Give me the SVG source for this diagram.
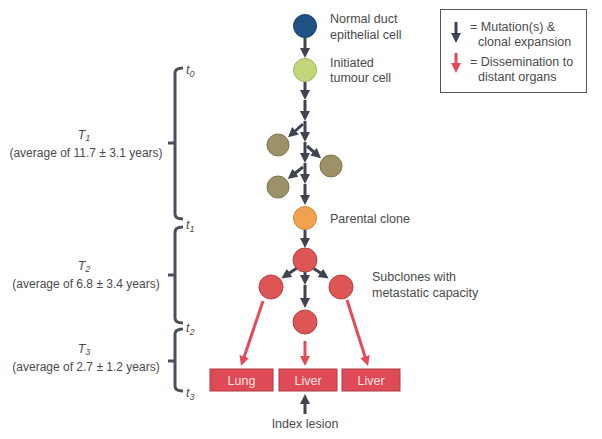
<svg xmlns="http://www.w3.org/2000/svg" width="602" height="439" viewBox="0 0 602 439">
<style>
text{font-family:"Liberation Sans",Arial,sans-serif;fill:#4a4a4a;font-size:12.5px}
.lbl{font-size:12px}
.it{font-style:italic}
.sub{font-size:9px}
.box{fill:#de4a55;stroke:#b03a45;stroke-width:1}
.boxt{fill:#fde4e4;font-size:12.5px;text-anchor:middle}
.ga{stroke:#3e4450;stroke-width:3;fill:none;marker-end:url(#gh)}
.ra{stroke:#e34a5a;stroke-width:3;fill:none;marker-end:url(#rh)}
.br{stroke:#4a4f5a;stroke-width:3;fill:none}
.brown{fill:#9d9169;stroke:#7d7350;stroke-width:1}
.red{fill:#dd5555;stroke:#b84040;stroke-width:1}
</style>
<defs>
<marker id="gh" viewBox="0 0 10 10" refX="2" refY="5" markerWidth="10" markerHeight="10" markerUnits="userSpaceOnUse" orient="auto"><path d="M0,0 L10,5 L0,10 z" fill="#3e4450"/></marker>
<marker id="rh" viewBox="0 0 10 10" refX="2" refY="5" markerWidth="10" markerHeight="10" markerUnits="userSpaceOnUse" orient="auto"><path d="M0,0 L10,5 L0,10 z" fill="#e34a5a"/></marker>
</defs>

<g id="connectors">
<line class="ga" x1="305" y1="38" x2="305" y2="50"/>
<line class="ga" x1="305" y1="82" x2="305" y2="92"/>
<line class="ga" x1="305" y1="100" x2="305" y2="113"/>
<line class="ga" x1="305" y1="121" x2="305" y2="134"/>
<line class="ga" x1="305" y1="142" x2="305" y2="155"/>
<line class="ga" x1="305" y1="163" x2="305" y2="176"/>
<line class="ga" x1="305" y1="184" x2="305" y2="197"/>
<line class="ga" x1="303" y1="124" x2="294" y2="132"/>
<line class="ga" x1="307" y1="146" x2="315" y2="153"/>
<line class="ga" x1="303" y1="167" x2="294" y2="174"/>
<line class="ga" x1="305" y1="230" x2="305" y2="240"/>
<line class="ga" x1="297" y1="268" x2="288" y2="274"/>
<line class="ga" x1="313" y1="268" x2="322" y2="274"/>
<line class="ga" x1="305" y1="272" x2="305" y2="277"/>
<line class="ga" x1="305" y1="285" x2="305" y2="300"/>
<line class="ra" x1="263" y1="301" x2="243.6" y2="358.4"/>
<line class="ra" x1="305" y1="341" x2="305" y2="358"/>
<line class="ra" x1="347" y1="300" x2="365.6" y2="358.4"/>
<line class="ga" x1="305" y1="414" x2="305" y2="402"/>
</g>

<g id="normal-cell">
<circle cx="305" cy="26" r="11.5" fill="#1f5185" stroke="#183f68" stroke-width="1"/>
<text x="330" y="23">Normal duct</text>
<text x="330" y="39">epithelial cell</text>
</g>
<g id="initiated-cell">
<circle cx="305" cy="70" r="11.5" fill="#c3d67a" stroke="#a0b35c" stroke-width="1"/>
<text x="330" y="67">Initiated</text>
<text x="330" y="82">tumour cell</text>
</g>
<g id="brown1"><circle class="brown" cx="278" cy="145" r="11"/></g>
<g id="brown2"><circle class="brown" cx="331" cy="166" r="11"/></g>
<g id="brown3"><circle class="brown" cx="278" cy="187" r="11"/></g>
<g id="parental-clone">
<circle cx="305" cy="218" r="11.5" fill="#f0a250" stroke="#cf8638" stroke-width="1"/>
<text x="330" y="223">Parental clone</text>
</g>
<g id="red-top"><circle class="red" cx="305" cy="260" r="12"/></g>
<g id="red-left"><circle class="red" cx="271" cy="287" r="12"/></g>
<g id="red-right"><circle class="red" cx="341" cy="287" r="12"/></g>
<g id="red-mid"><circle class="red" cx="305" cy="322" r="12"/></g>
<g id="subclones-label">
<text x="372" y="281">Subclones with</text>
<text x="372" y="297">metastatic capacity</text>
</g>

<g id="lung"><rect class="box" x="210" y="369" width="63" height="22"/><text class="boxt" x="241.5" y="385">Lung</text></g>
<g id="liver1"><rect class="box" x="279" y="369" width="58" height="22"/><text class="boxt" x="308" y="385">Liver</text></g>
<g id="liver2"><rect class="box" x="342" y="369" width="58" height="22"/><text class="boxt" x="371" y="385">Liver</text></g>
<g id="index-lesion"><text x="305" y="428" text-anchor="middle">Index lesion</text></g>

<g id="legend">
<rect x="440.5" y="9.5" width="146" height="83" fill="none" stroke="#555" stroke-width="1"/>
<line class="ga" x1="456" y1="22" x2="456" y2="35"/>
<line class="ra" x1="456" y1="53" x2="456" y2="65"/>
<text x="470" y="31">= Mutation(s) &amp;</text>
<text x="478" y="46">clonal expansion</text>
<text x="470" y="66">= Dissemination to</text>
<text x="478" y="81">distant organs</text>
</g>

<g id="timeline">
<path class="br" d="M183,68 Q175,68 175,73 L175,214 Q175,219 183,219 M168,143 L175,143"/>
<path class="br" d="M183,227 Q175,227 175,232 L175,318 Q175,323 183,323 M168,275 L175,275"/>
<path class="br" d="M183,329 Q175,329 175,334 L175,386 Q175,391 183,391 M168,361 L175,361"/>
<text x="186" y="74" class="it">t<tspan class="sub" dy="3">0</tspan></text>
<text x="186" y="229" class="it">t<tspan class="sub" dy="3">1</tspan></text>
<text x="186" y="332" class="it">t<tspan class="sub" dy="3">2</tspan></text>
<text x="186" y="397" class="it">t<tspan class="sub" dy="3">3</tspan></text>
<text x="84" y="139" class="it" text-anchor="middle">T<tspan class="sub" dy="2">1</tspan></text>
<text x="86" y="157" class="lbl" text-anchor="middle">(average of 11.7 ± 3.1 years)</text>
<text x="84" y="270" class="it" text-anchor="middle">T<tspan class="sub" dy="2">2</tspan></text>
<text x="86" y="288" class="lbl" text-anchor="middle">(average of 6.8 ± 3.4 years)</text>
<text x="84" y="353" class="it" text-anchor="middle">T<tspan class="sub" dy="2">3</tspan></text>
<text x="86" y="371" class="lbl" text-anchor="middle">(average of 2.7 ± 1.2 years)</text>
</g>
</svg>
